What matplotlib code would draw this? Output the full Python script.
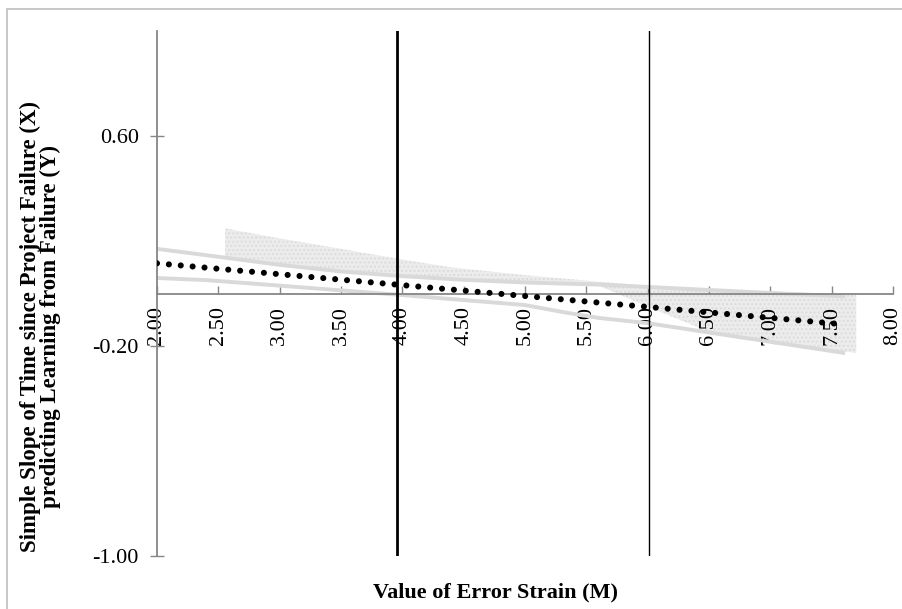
import matplotlib.pyplot as plt
from matplotlib.patches import Rectangle
import numpy as np

plt.rcParams['font.family'] = ['Liberation Serif', 'DejaVu Serif']

# simple slope line (dotted)
slope_x = [2.0, 7.56]
slope_y = [0.115, -0.116]

# confidence band edges (light grey lines)
upper_x = [2.0, 2.5, 3.0, 3.5, 4.0, 4.5, 5.0, 5.6, 6.0, 7.0, 7.61]
upper_y = [0.170, 0.140, 0.109, 0.084, 0.066, 0.052, 0.042, 0.034, 0.025, 0.002, -0.011]
lower_x = [2.0, 2.4, 3.0, 4.0, 5.0, 5.3, 5.6, 6.0, 7.0, 7.61]
lower_y = [0.059, 0.051, 0.030, -0.006, -0.044, -0.070, -0.093, -0.113, -0.184, -0.227]

# shaded region
shade_x = [2.555, 3.0, 3.5, 3.98, 4.39, 5.0, 5.6, 6.0, 6.5, 7.0, 7.7]
shade_top = [0.248, 0.21, 0.17, 0.131, 0.10, 0.07, 0.045, 0.03, 0.017, 0.008, -0.006]
shade_bot = [0.138, 0.109, 0.082, 0.065, 0.052, 0.04, 0.03, -0.05, -0.146, -0.18, -0.227]

# vertical markers
jn_lines = [3.96, 6.01]
jn_widths = [2.0, 1.0]

xticks = [2.0, 2.5, 3.0, 3.5, 4.0, 4.5, 5.0, 5.5, 6.0, 6.5, 7.0, 7.5, 8.0]
yticks = [-1.0, -0.2, 0.6]

fig = plt.figure(figsize=(9.03, 6.09), dpi=100)
ax = fig.add_axes([157/903, 1 - 556/609, 736/903, 525/609])

# spines first: set_position resets the ticks
for s in ['top', 'right']:
    ax.spines[s].set_visible(False)
ax.spines['bottom'].set_position(('data', 0))
ax.spines['left'].set_position(('data', 2.0))
for s in ['left', 'bottom']:
    ax.spines[s].set_color('#868686')
    ax.spines[s].set_linewidth(1.3)
    ax.spines[s].set_zorder(2.5)

ax.fill_between(shade_x, shade_bot, shade_top, facecolor='#ececec', edgecolor='#dcdcdc',
                hatch='....', lw=0, zorder=1)
ax.plot(upper_x, upper_y, color='#d9d9d9', lw=2.8, zorder=2, solid_capstyle='butt')
ax.plot(lower_x, lower_y, color='#d9d9d9', lw=2.8, zorder=2, solid_capstyle='butt')
ax.plot(slope_x, slope_y, color='black', lw=4.4, linestyle=(0, (0.001, 1.95)),
        dash_capstyle='round', zorder=4)
for xv, w in zip(jn_lines, jn_widths):
    ax.axvline(xv, color='black', lw=w, zorder=3)

ax.set_xlim(2.0, 8.0)
ax.set_ylim(-1.0, 1.0)
ax.set_xticks(xticks)
ax.set_xticklabels(['%.2f' % v for v in xticks])
ax.set_yticks(yticks)
ax.set_yticklabels(['%.2f' % v for v in yticks])

ax.tick_params(axis='x', direction='in', length=6, width=1, color='#868686',
               labelsize=16, pad=9, labelrotation=90)
ax.tick_params(axis='y', direction='inout', length=10, width=1, color='#868686',
               labelsize=16, pad=8)

fig.text(0.045, 1 - 327/609,
         'Simple Slope of Time since Project Failure (X)\npredicting Learning from Failure (Y)',
         rotation=90, ha='center', va='center', multialignment='center',
         fontsize=16.5, fontweight='bold', linespacing=0.95)
fig.text(496/903, 1 - 592/609, 'Value of Error Strain (M)', ha='center', va='center',
         fontsize=16, fontweight='bold')

fig.patches.append(Rectangle((7/903, -0.01), 1.0, 1 - 9/609 + 0.01,
                             transform=fig.transFigure, fill=False,
                             edgecolor='#bfbfbf', lw=1.2))

fig.savefig('out.png', dpi=100)
